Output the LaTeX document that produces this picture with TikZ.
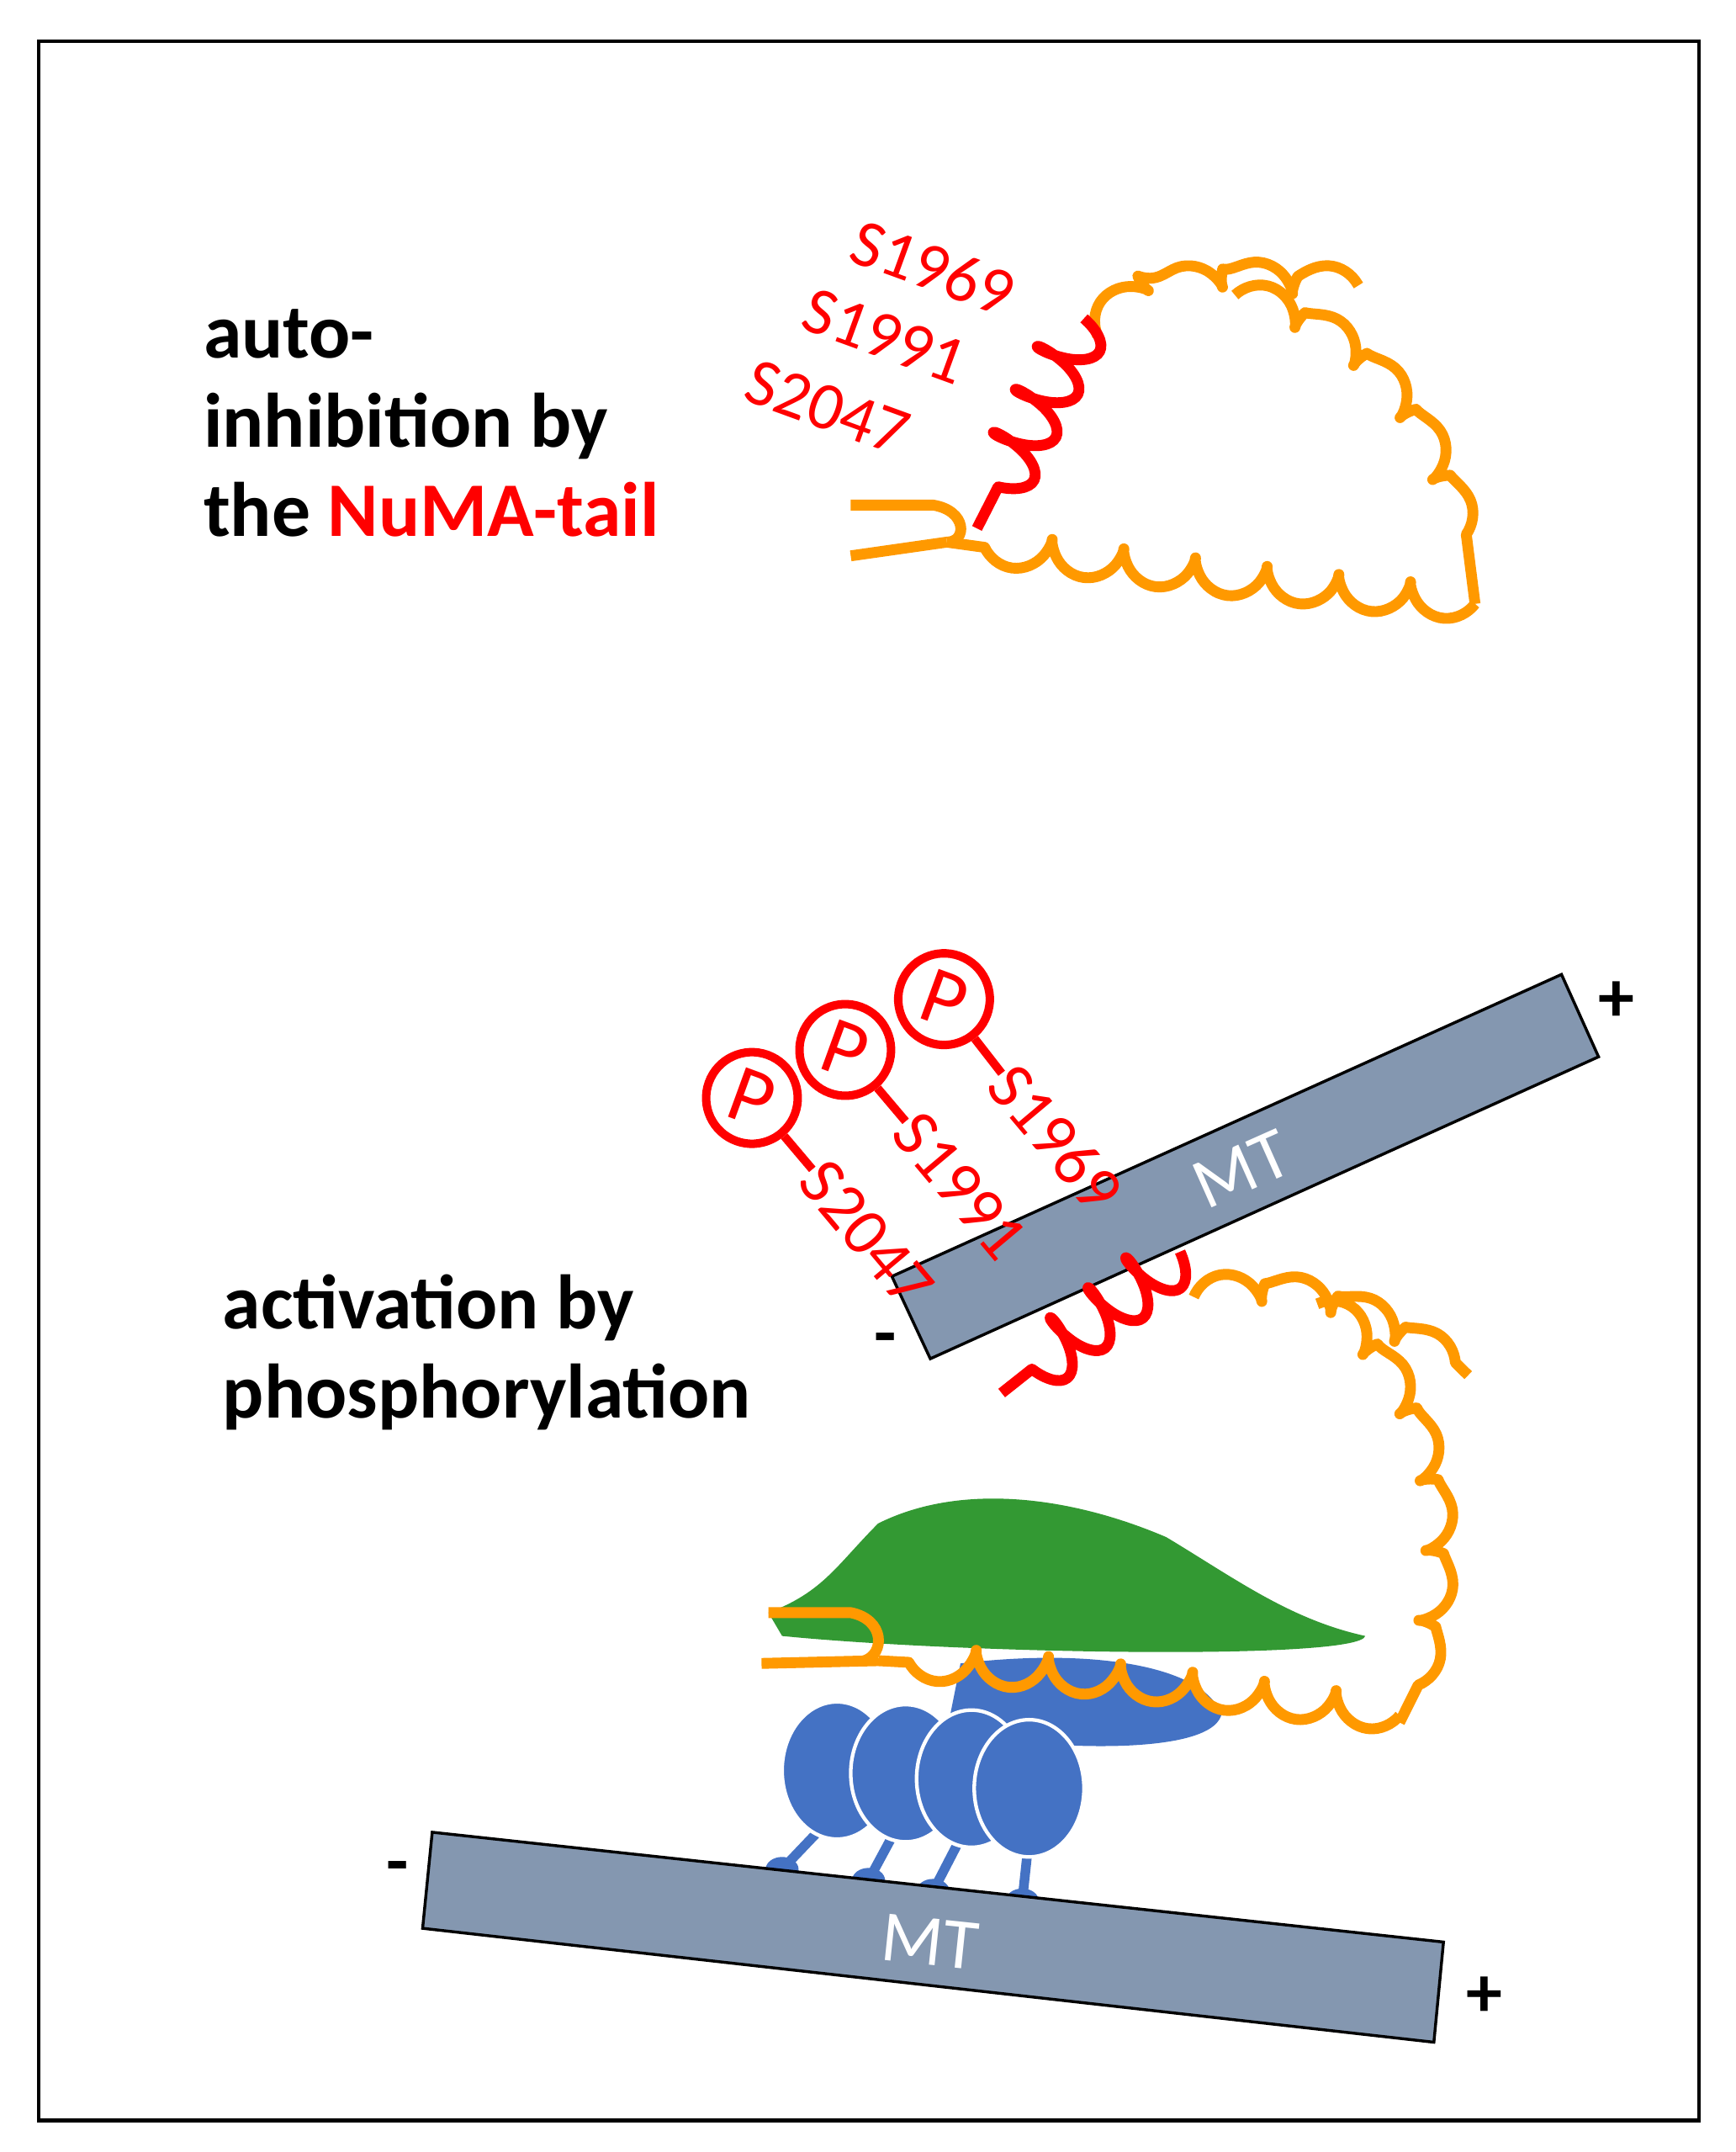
\documentclass[tikz,border=0pt]{standalone}
\usepackage{fontspec}
\setmainfont{Carlito}
\usetikzlibrary{decorations.pathmorphing}
\definecolor{org}{HTML}{FF9900}
\definecolor{mt}{HTML}{8497B0}
\definecolor{bl}{HTML}{4472C4}
\definecolor{gr}{HTML}{339933}
\begin{document}
\begin{tikzpicture}[x=0.02cm,y=-0.02cm,
  chain/.style={draw=org,line width=4.5pt,line join=round,decorate,decoration={coil,amplitude=7pt,segment length=30pt,aspect=0.7}},
  helix/.style={draw=red,line width=4.5pt,line join=round,decorate,decoration={coil,amplitude=12pt,segment length=20pt,aspect=0.35}},
  lab/.style={font=\bfseries\fontsize{32}{37}\selectfont,align=left,anchor=north west,inner sep=0},
  slab/.style={text=red,font=\fontsize{28}{30}\selectfont,inner sep=0},
  mtbox/.style={fill=mt,draw=black,line width=1.2pt},
  pc/.style={circle,draw=red,line width=3.5pt,minimum size=38pt,inner sep=0,text=red,font=\fontsize{34}{34}\selectfont},
  sign/.style={font=\bfseries\fontsize{30}{30}\selectfont,inner sep=0}]
\useasboundingbox (0,0) rectangle (1265,1568);
\draw[line width=1.5pt] (28,30) rectangle (1238,1545);
% top
\node[lab] (t1) at (148,225) {auto-\\inhibition by\\the \textcolor{red}{NuMA-tail}};
\node[slab,rotate=-20] (s1) at (680,195) {S1969};
\node[slab,rotate=-20] (s2) at (645,245) {S1991};
\node[slab,rotate=-20] (s3) at (603,297) {S2047};
\draw[chain] (800,245) .. controls (830,200) and (900,200) .. (990,208);
\draw[chain] (900,215) .. controls (1000,240) and (1060,320) .. (1075,440);
\draw[chain] (1075,440) .. controls (950,430) and (800,410) .. (690,395);
\draw[draw=org,line width=4.5pt] (690,395) -- (620,405);
\draw[draw=org,line width=4.5pt] (620,368) -- (680,368) .. controls (705,372) and (705,395) .. (690,395);
\draw[helix] (790,232) -- (712,385);
% bottom MT upper
\draw[mtbox] (650,930) -- (1138,710) -- (1165,770) -- (678,990) -- cycle;
\node[text=white,rotate=24,font=\fontsize{30}{30}\selectfont] (mt1) at (905,852) {MT};
\node[sign] (p1) at (1178,730) {+};
\node[sign] (m1) at (645,980) {-};
\node[pc,rotate=-20] (c1) at (548,800) {P};
\node[pc,rotate=-20] (c2) at (616,765) {P};
\node[pc,rotate=-20] (c3) at (688,728) {P};
\node[slab,rotate=-50,anchor=west] (b3) at (592,852) {S2047};
\node[slab,rotate=-50,anchor=west] (b2) at (660,817) {S1991};
\node[slab,rotate=-50,anchor=west] (b1) at (730,782) {S1969};
\draw[red,line width=3.5pt] (c1) -- (b3.west);
\draw[red,line width=3.5pt] (c2) -- (b2.west);
\draw[red,line width=3.5pt] (c3) -- (b1.west);
% green
\fill[gr] (560,1175) .. controls (600,1160) and (610,1140) .. (640,1110) .. controls (700,1080) and (780,1090) .. (850,1120) .. controls (900,1150) and (940,1180) .. (995,1192) .. controls (990,1210) and (700,1205) .. (570,1192) -- cycle;
% blue
\fill[bl] (700,1212) .. controls (800,1200) and (880,1215) .. (890,1250) .. controls (880,1280) and (760,1275) .. (690,1262) -- cycle;
\foreach \x/\fx/\fy in {610/570/1362,660/633/1370,710/680/1378,752/745/1385}{
  \draw[bl,line width=4pt] (\x,1320) -- (\fx,\fy);
  \fill[bl] (\fx,\fy) ellipse (12 and 9);}
\foreach \x/\y in {610/1290,660/1292,708/1296,750/1303}{
  \filldraw[fill=bl,draw=white,line width=1.5pt] (\x,\y) ellipse (40 and 50);}
\draw[chain] (870,945) .. controls (950,930) and (1010,960) .. (1070,1002);
\draw[chain] (960,950) .. controls (1050,1010) and (1070,1140) .. (1020,1255);
\draw[chain] (1020,1250) .. controls (900,1235) and (800,1220) .. (640,1210);
\draw[draw=org,line width=4.5pt] (640,1210) -- (555,1212);
\draw[draw=org,line width=4.5pt] (560,1175) -- (620,1175) .. controls (645,1180) and (645,1205) .. (630,1210);
\draw[helix] (860,912) -- (730,1015);
\node[lab] (t2) at (162,928) {activation by\\phosphorylation};
% lower MT
\draw[mtbox] (315,1335) -- (1052,1415) -- (1045,1488) -- (308,1405) -- cycle;
\node[text=white,rotate=-6,font=\fontsize{30}{30}\selectfont] (mt2) at (678,1415) {MT};
\node[sign] (m2) at (290,1365) {-};
\node[sign] (p2) at (1082,1455) {+};
\end{tikzpicture}
\end{document}
